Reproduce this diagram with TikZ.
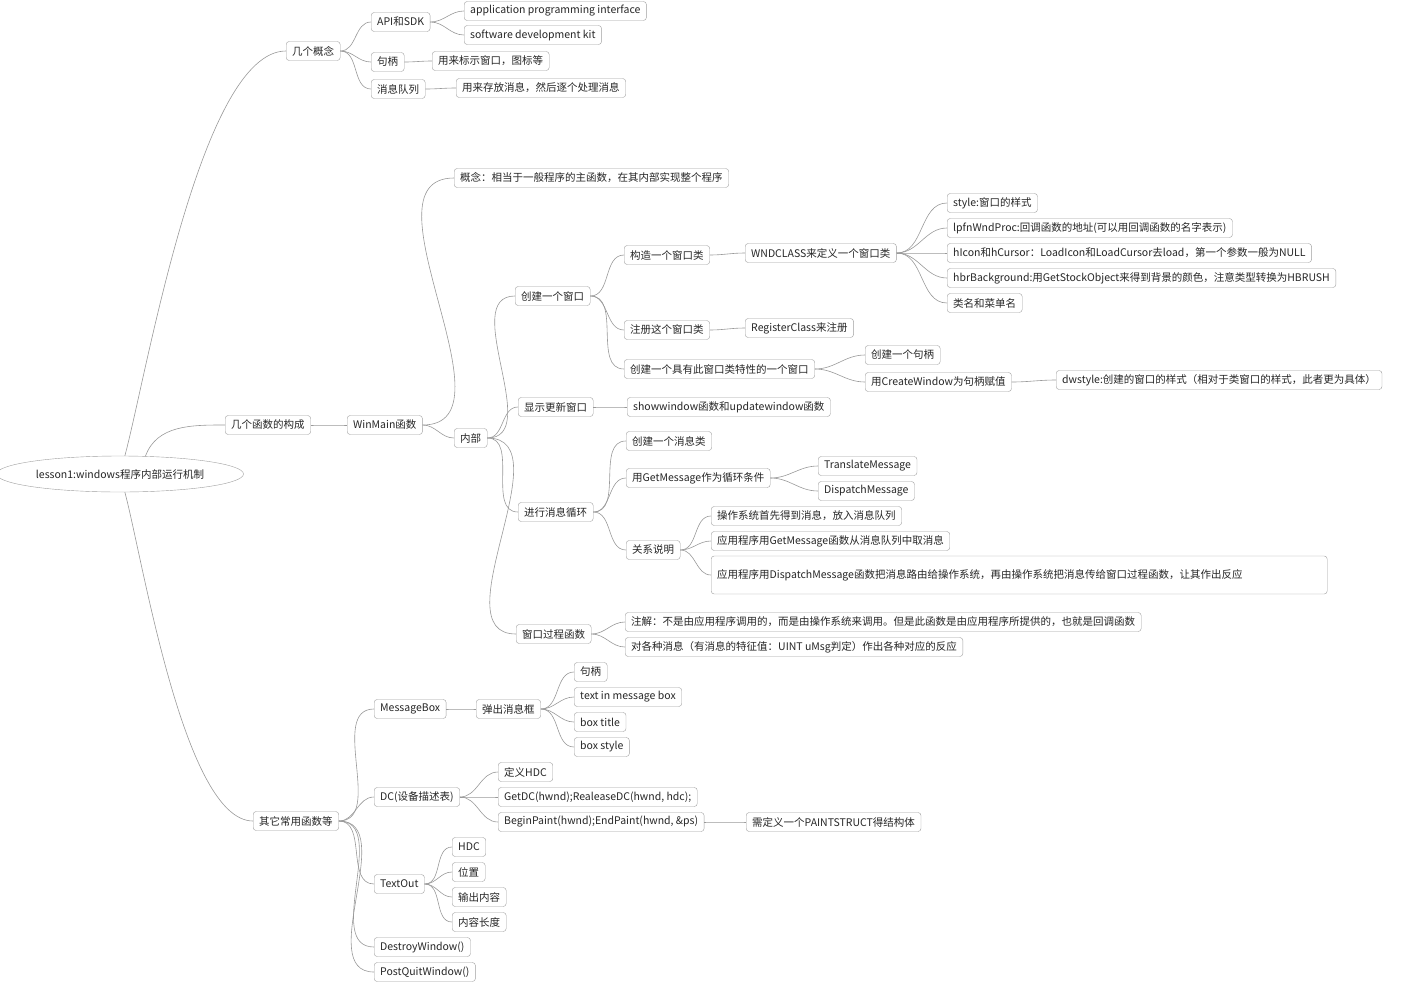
\documentclass[tikz,border=0pt]{standalone}
\usepackage{fontspec}
\setmainfont{Noto Sans CJK SC}
\usetikzlibrary{shapes.geometric}
\begin{document}
\begin{tikzpicture}[x=1pt,y=-1pt,
  n/.style={draw=gray!75,rounded corners=3pt,fill=white,inner xsep=6pt,inner ysep=0pt,minimum height=19pt,anchor=west,font=\fontsize{10.5}{13}\selectfont,text=black!85},
  conn/.style={draw=gray!80,line width=0.6pt}]
\useasboundingbox (0,0) rectangle (1428,983);
\node[draw=gray!75,ellipse,fill=white,minimum width=222pt,minimum height=36pt,font=\fontsize{10.5}{13}\selectfont,text=black!85] (root) at (120,474) {lesson1:windows程序内部运行机制};
\node[n] (a1) at (286,51) {几个概念};
\node[n] (api) at (371,22) {API和SDK};
\node[n] (api1) at (464,11) {application programming interface};
\node[n] (api2) at (464,35) {software development kit};
\node[n] (jb) at (371,62) {句柄};
\node[n] (jb1) at (432,61) {用来标示窗口，图标等};
\node[n] (xx) at (371,89) {消息队列};
\node[n] (xx1) at (456,88) {用来存放消息，然后逐个处理消息};
\node[n] (a2) at (225,425) {几个函数的构成};
\node[n] (wm) at (347,425) {WinMain函数};
\node[n] (gn) at (454,178) {概念：相当于一般程序的主函数，在其内部实现整个程序};
\node[n] (nb) at (454,438) {内部};
\node[n] (cj) at (515,296) {创建一个窗口};
\node[n] (gz) at (624,255) {构造一个窗口类};
\node[n] (wc) at (745,253) {WNDCLASS来定义一个窗口类};
\node[n] (w1) at (947,203) {style:窗口的样式};
\node[n] (w2) at (947,228) {lpfnWndProc:回调函数的地址(可以用回调函数的名字表示)};
\node[n] (w3) at (947,253) {hIcon和hCursor：LoadIcon和LoadCursor去load，第一个参数一般为NULL};
\node[n] (w4) at (947,278) {hbrBackground:用GetStockObject来得到背景的颜色，注意类型转换为HBRUSH};
\node[n] (w5) at (947,303) {类名和菜单名};
\node[n] (zc) at (624,330) {注册这个窗口类};
\node[n] (rc) at (745,328) {RegisterClass来注册};
\node[n] (cw) at (624,369) {创建一个具有此窗口类特性的一个窗口};
\node[n] (cw1) at (865,355) {创建一个句柄};
\node[n] (cw2) at (865,382) {用CreateWindow为句柄赋值};
\node[n] (ds) at (1056,380) {dwstyle:创建的窗口的样式（相对于类窗口的样式，此者更为具体）};
\node[n] (xs) at (518,407) {显示更新窗口};
\node[n] (xs1) at (627,407) {showwindow函数和updatewindow函数};
\node[n] (xh) at (518,512) {进行消息循环};
\node[n] (h1) at (626,441) {创建一个消息类};
\node[n] (h2) at (626,478) {用GetMessage作为循环条件};
\node[n] (tm) at (818,466) {TranslateMessage};
\node[n] (dm) at (818,491) {DispatchMessage};
\node[n] (h3) at (626,550) {关系说明};
\node[n] (r1) at (711,516) {操作系统首先得到消息，放入消息队列};
\node[n] (r2) at (711,541) {应用程序用GetMessage函数从消息队列中取消息};
\node[n,text width=604pt,align=left,minimum height=38pt,inner ysep=2pt] (r3) at (711,575) {应用程序用DispatchMessage函数把消息路由给操作系统，再由操作系统把消息传给窗口过程函数，让其作出反应};
\node[n] (gc) at (516,634) {窗口过程函数};
\node[n] (g1) at (625,622) {注解：不是由应用程序调用的，而是由操作系统来调用。但是此函数是由应用程序所提供的，也就是回调函数};
\node[n] (g2) at (625,647) {对各种消息（有消息的特征值：UINT uMsg判定）作出各种对应的反应};
\node[n] (a3) at (253,821) {其它常用函数等};
\node[n] (mb) at (374,709) {MessageBox};
\node[n] (tc) at (476,709) {弹出消息框};
\node[n] (t1) at (574,672) {句柄};
\node[n] (t2) at (574,697) {text in message box};
\node[n] (t3) at (574,722) {box title};
\node[n] (t4) at (574,747) {box style};
\node[n] (dc) at (374,797) {DC(设备描述表)};
\node[n] (d1) at (498,772) {定义HDC};
\node[n] (d2) at (498,797) {GetDC(hwnd);RealeaseDC(hwnd, hdc);};
\node[n] (d3) at (498,822) {BeginPaint(hwnd);EndPaint(hwnd, \&ps)};
\node[n] (d4) at (746,822) {需定义一个PAINTSTRUCT得结构体};
\node[n] (to) at (374,884) {TextOut};
\node[n] (o1) at (452,847) {HDC};
\node[n] (o2) at (452,872) {位置};
\node[n] (o3) at (452,897) {输出内容};
\node[n] (o4) at (452,922) {内容长度};
\node[n] (dw) at (374,947) {DestroyWindow()};
\node[n] (pq) at (374,972) {PostQuitWindow()};
\begin{scope}[on background layer/.style={}]
\draw[conn] (root.75) to[out=75,in=180,looseness=0.5] (a1.west);
\draw[conn] (root.35) to[out=70,in=180] (a2.west);
\draw[conn] (root.-75) to[out=-75,in=180,looseness=0.5] (a3.west);
\foreach \p/\c in {a1/api,a1/jb,a1/xx,api/api1,api/api2,jb/jb1,xx/xx1,a2/wm,wm/gn,wm/nb,
  nb/cj,nb/xs,nb/xh,nb/gc,cj/gz,cj/zc,cj/cw,gz/wc,wc/w1,wc/w2,wc/w3,wc/w4,wc/w5,zc/rc,cw/cw1,cw/cw2,cw2/ds,
  xs/xs1,xh/h1,xh/h2,xh/h3,h2/tm,h2/dm,h3/r1,h3/r2,h3/r3,gc/g1,gc/g2,
  a3/mb,a3/dc,a3/to,a3/dw,a3/pq,mb/tc,tc/t1,tc/t2,tc/t3,tc/t4,dc/d1,dc/d2,dc/d3,d3/d4,to/o1,to/o2,to/o3,to/o4}
  \draw[conn] (\p.east) to[out=0,in=180] (\c.west);
\end{scope}
\end{tikzpicture}
\end{document}
